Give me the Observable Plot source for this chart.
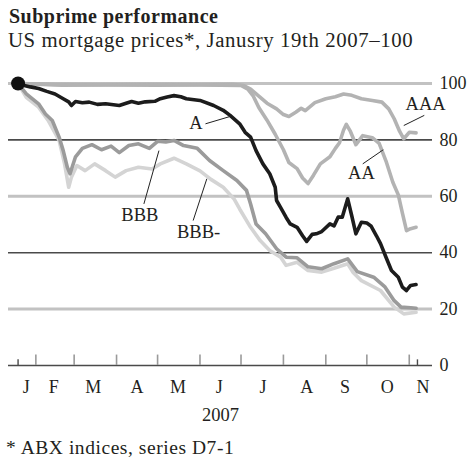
<!DOCTYPE html>
<html><head><meta charset="utf-8">
<script src="https://cdn.jsdelivr.net/npm/d3@7"></script>
<script src="https://cdn.jsdelivr.net/npm/@observablehq/plot@0.6"></script>
<style>
body{margin:0;background:#fff;}
#wrap{position:relative;width:467px;height:457px;font-family:"Liberation Serif","Times New Roman",serif;color:#231f20;overflow:hidden;}
#title{position:absolute;left:9px;top:6px;font-size:20px;font-weight:bold;line-height:1;white-space:nowrap;letter-spacing:0.5px;}
#sub{position:absolute;left:8px;top:29.5px;font-size:20.8px;line-height:1;white-space:nowrap;letter-spacing:0.6px;}
#chart{position:absolute;left:0;top:60px;}
#foot{position:absolute;left:6px;top:438px;font-size:19.5px;line-height:1;white-space:nowrap;letter-spacing:0.55px;}
</style></head>
<body>
<div id="wrap">
  <div id="title">Subprime performance</div>
  <div id="sub">US mortgage prices*, Janusry 19th 2007–100</div>
  <div id="chart"></div>
  <div id="foot">* ABX indices, series D7-1</div>
</div>
<script>
// ---- data ----
const seriesA = [
["2007-01-19",100],["2007-01-22",99.5],["2007-01-28",98.8],["2007-02-03",98.2],["2007-02-09",97.2],["2007-02-15",96.3],["2007-02-21",94.6],["2007-02-25",93.5],["2007-02-27",92.2],["2007-03-02",93.6],["2007-03-07",93.2],["2007-03-12",93.4],["2007-03-18",92.6],["2007-03-24",92.8],["2007-04-03",92.2],["2007-04-08",93.0],["2007-04-12",93.6],["2007-04-17",93.0],["2007-04-22",93.5],["2007-04-29",93.7],["2007-05-03",94.6],["2007-05-08",95.2],["2007-05-13",95.7],["2007-05-18",95.3],["2007-05-22",94.6],["2007-06-01",94.0],["2007-06-11",92.2],["2007-06-18",90.5],["2007-06-23",88.7],["2007-06-30",85.7],["2007-07-04",82.7],["2007-07-08",81],["2007-07-12",76.2],["2007-07-17",71.5],["2007-07-22",68],["2007-07-26",63.2],["2007-07-27",58.5],["2007-07-30",56],["2007-08-03",52.5],["2007-08-06",50.2],["2007-08-11",49],["2007-08-15",46],["2007-08-18",44],["2007-08-22",46.5],["2007-08-25",46.7],["2007-08-29",47.5],["2007-09-04",50.2],["2007-09-07",49.5],["2007-09-10",52.6],["2007-09-13",52.6],["2007-09-17",59.1],["2007-09-20",53],["2007-09-23",46.7],["2007-09-27",50.8],["2007-10-01",50.5],["2007-10-04",49.5],["2007-10-08",46],["2007-10-11",43.2],["2007-10-15",38.4],["2007-10-19",33.7],["2007-10-24",31.3],["2007-10-27",27.8],["2007-10-30",26.6],["2007-11-02",28.4],["2007-11-06",28.7]
];
const seriesAAA = [
["2007-01-19",100],["2007-02-15",99.7],["2007-03-20",99.6],["2007-04-25",99.7],["2007-05-30",99.6],["2007-06-25",99.7],["2007-07-03",99.3],["2007-07-08",98],["2007-07-14",95.5],["2007-07-20",93],["2007-07-27",91],["2007-08-01",89],["2007-08-05",88.3],["2007-08-10",89.8],["2007-08-14",91.2],["2007-08-17",90.4],["2007-08-24",93.2],["2007-09-01",94.6],["2007-09-08",95.3],["2007-09-14",96.3],["2007-09-20",95.8],["2007-09-27",94.6],["2007-10-05",94],["2007-10-12",93.4],["2007-10-17",91],["2007-10-21",87.5],["2007-10-25",83],["2007-10-28",80.4],["2007-11-01",82.7],["2007-11-06",82.5]
];
const seriesAA = [
["2007-01-19",100],["2007-02-20",99.4],["2007-03-25",99.5],["2007-04-30",99.4],["2007-06-01",99.5],["2007-07-01",99.3],["2007-07-06",98],["2007-07-10",95.5],["2007-07-14",91.5],["2007-07-20",87],["2007-07-26",82],["2007-08-01",76.5],["2007-08-05",72],["2007-08-11",69.8],["2007-08-15",66.5],["2007-08-19",64.5],["2007-08-23",67.5],["2007-08-28",71.5],["2007-09-04",74],["2007-09-08",77],["2007-09-11",79],["2007-09-14",83.5],["2007-09-16",85.5],["2007-09-19",83],["2007-09-23",78.3],["2007-09-28",81.5],["2007-10-05",80.8],["2007-10-10",78.8],["2007-10-15",72.5],["2007-10-20",65],["2007-10-24",60.5],["2007-10-27",54],["2007-10-30",47.8],["2007-11-02",48.5],["2007-11-06",49]
];
const seriesBBB = [
["2007-01-19",100],["2007-01-25",96.3],["2007-02-03",92.8],["2007-02-08",89.2],["2007-02-13",86.9],["2007-02-18",81],["2007-02-21",76.2],["2007-02-24",70.3],["2007-02-26",68],["2007-03-02",74],["2007-03-07",77],["2007-03-14",78.3],["2007-03-21",76.5],["2007-03-28",77.8],["2007-04-03",75.5],["2007-04-10",78],["2007-04-17",78.6],["2007-04-25",77],["2007-05-01",79.5],["2007-05-07",79.3],["2007-05-13",79.8],["2007-05-20",78],["2007-05-30",77],["2007-06-08",72.7],["2007-06-18",69.1],["2007-06-28",65.6],["2007-07-05",62.1],["2007-07-08",57.3],["2007-07-12",50.2],["2007-07-19",46.7],["2007-07-27",41.4],["2007-08-03",38.4],["2007-08-11",38.2],["2007-08-19",35],["2007-08-29",34.3],["2007-09-07",36.1],["2007-09-17",37.8],["2007-09-24",33.3],["2007-10-06",31.3],["2007-10-14",28],["2007-10-21",23],["2007-10-26",20.7],["2007-11-02",20.5],["2007-11-06",20.3]
];
const seriesBBBminus = [
["2007-01-19",100],["2007-01-25",95.1],["2007-02-03",91.6],["2007-02-10",86.9],["2007-02-18",79.8],["2007-02-22",71.5],["2007-02-25",63.2],["2007-02-27",66.8],["2007-03-03",70.9],["2007-03-09",69.1],["2007-03-16",71.5],["2007-03-24",69.1],["2007-03-31",66.8],["2007-04-08",69.1],["2007-04-17",70.3],["2007-04-27",69.7],["2007-05-03",71.5],["2007-05-13",73.5],["2007-05-22",71.5],["2007-06-01",69],["2007-06-09",66],["2007-06-18",63.2],["2007-06-26",59],["2007-06-30",55.5],["2007-07-08",49],["2007-07-15",44.3],["2007-07-22",40.8],["2007-07-30",38.4],["2007-08-03",35.5],["2007-08-11",36.6],["2007-08-19",33.7],["2007-08-29",33.1],["2007-09-07",34.5],["2007-09-17",36.1],["2007-09-21",33],["2007-09-27",30.1],["2007-10-11",26.6],["2007-10-21",20.7],["2007-10-28",18.3],["2007-11-06",18.9]
];

const yTicks = [0, 20, 40, 60, 80, 100];
const monthLabels = ["J","F","M","A","M","J","J","A","S","O","N"];
const monthLabelDates = ["2007-01-25","2007-02-14","2007-03-15","2007-04-16","2007-05-16","2007-06-15","2007-07-17","2007-08-18","2007-09-15","2007-10-16","2007-11-11"];
const monthTickDates = ["2007-02-01","2007-03-01","2007-04-01","2007-05-01","2007-06-01","2007-07-01","2007-08-01","2007-09-01","2007-10-01","2007-11-01"];
const endTickDates = ["2007-01-19","2007-11-07"];
const yearLabel = "2007";
const yearLabelDate = "2007-06-16";

const seriesNames = ["A","AAA","AA","BBB","BBB-"];
const labelDates = ["2007-05-29","2007-11-13","2007-09-27","2007-04-18","2007-05-31"];
const labelValues = [85.9, 92.8, 68.1, 53.2, 47.3];
const leaderFrom = [["2007-06-05",85.7],["2007-10-28",85.1],["2007-09-28",71.5],["2007-04-21",57.3],["2007-05-27",51.4]];
const leaderTo   = [["2007-06-23",88.3],["2007-11-12",88.7],["2007-10-13",76.5],["2007-05-02",76.2],["2007-06-06",66.2]];

// ---- build ----
const parse = d3.utcParse("%Y-%m-%d");
const toRows = (name, arr) => arr.map(([d, v]) => ({name, date: parse(d), value: v}));
const colors = {"AAA":"#b3b3b3","AA":"#b3b3b3","BBB-":"#d4d4d4","BBB":"#9b9b9b","A":"#1c1c1c"};
const order = [["AAA", seriesAAA], ["AA", seriesAA], ["BBB-", seriesBBBminus], ["BBB", seriesBBB], ["A", seriesA]];
const lineMarks = order.map(([n, arr]) => Plot.line(toRows(n, arr), {x: "date", y: "value", stroke: colors[n], strokeWidth: 3.6, strokeLinejoin: "round", strokeLinecap: "round"}));

const xDomain = [parse("2007-01-12"), parse("2007-11-18")];
const lightGrid = yTicks.filter(v => v === 100 || v === 60 || v === 20);
const darkGrid = yTicks.filter(v => v === 80 || v === 40 || v === 0);

const labels = seriesNames.map((n, i) => ({text: n, date: parse(labelDates[i]), value: labelValues[i]}));
const leaders = seriesNames.map((n, i) => ({x1: parse(leaderFrom[i][0]), y1: leaderFrom[i][1], x2: parse(leaderTo[i][0]), y2: leaderTo[i][1]}));

const chart = Plot.plot({
  width: 467, height: 370,
  marginLeft: 8, marginRight: 35, marginTop: 23, marginBottom: 65,
  x: {type: "utc", domain: xDomain, axis: null},
  y: {domain: [0, 100], axis: null},
  style: {fontFamily: "'Liberation Serif', 'Times New Roman', serif", background: "white", color: "#231f20", overflow: "visible"},
  marks: [
    Plot.ruleY(lightGrid, {y: d => d, stroke: "#c2c2c2", strokeWidth: 3}),
    Plot.ruleY(darkGrid, {y: d => d, stroke: "#4a4a4a", strokeWidth: 1.6}),
    Plot.ruleX(monthTickDates.map(parse), {x: d => d, y1: 0, y2: 3.7, stroke: "#9a9a9a", strokeWidth: 1.6}),
    Plot.ruleX(endTickDates.map(parse), {x: d => d, y1: 0, y2: 2, stroke: "#4a4a4a", strokeWidth: 1.4}),
    ...lineMarks,
    Plot.dot([{date: parse(seriesA[0][0]), value: seriesA[0][1]}], {x: "date", y: "value", r: 7, fill: "#111", stroke: "none"}),
    Plot.link(leaders, {x1: "x1", y1: "y1", x2: "x2", y2: "y2", stroke: "#222", strokeWidth: 1}),
    Plot.text(labels, {x: "date", y: "value", text: "text", fontSize: 18.5, fill: "#231f20"}),
    Plot.text(yTicks, {x: () => xDomain[1], y: d => d, text: d => String(d), textAnchor: "start", dx: 7, fontSize: 18, fill: "#231f20"}),
    Plot.text(monthLabels, {x: (d, i) => parse(monthLabelDates[i]), y: () => 0, text: d => d, dy: 21.3, fontSize: 18, fill: "#231f20"}),
    Plot.text([yearLabel], {x: () => parse(yearLabelDate), y: () => 0, text: d => d, dy: 50, fontSize: 18.5, fill: "#231f20"})
  ]
});
document.getElementById("chart").appendChild(chart);
</script>
</body></html>
